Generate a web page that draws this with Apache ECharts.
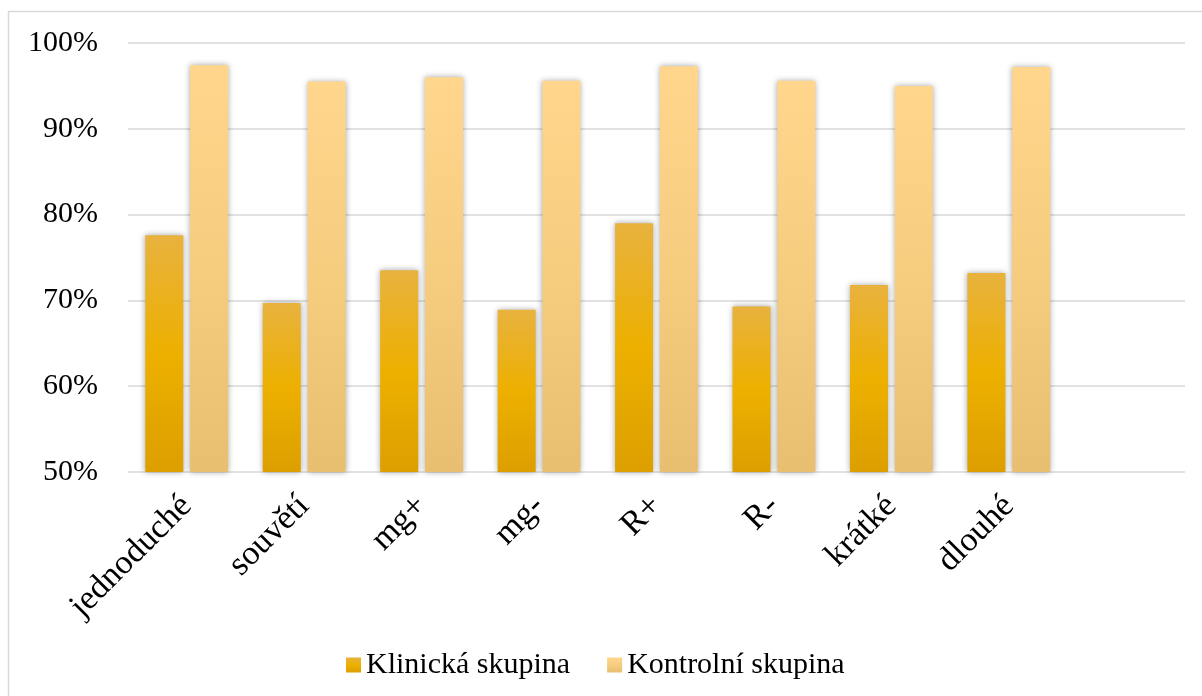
<!DOCTYPE html>
<html>
<head>
<meta charset="utf-8">
<script src="https://cdn.jsdelivr.net/npm/echarts@6/dist/echarts.min.js"></script>
<style>
html,body{margin:0;padding:0;background:#fff;}
#c{width:1202px;height:696px;}
</style>
</head>
<body>
<div id="c"></div>
<script>
var categories = ['jednoduché','souvětí','mg+','mg-','R+','R-','krátké','dlouhé',''];
var klinicka = [77.6, 69.7, 73.5, 68.9, 79.0, 69.3, 71.8, 73.2];
var kontrolni = [97.4, 95.5, 96.0, 95.6, 97.3, 95.6, 95.0, 97.2];
var seriesNames = ['Klinická skupina','Kontrolní skupina'];

var font = 'Liberation Serif, Times New Roman, serif';
var chart = echarts.init(document.getElementById('c'));
var gradK = new echarts.graphic.LinearGradient(0,0,0,1,[
  {offset:0,color:'#e8b23e'},{offset:0.5,color:'#edb000'},{offset:1,color:'#dc9f00'}]);
var gradC = new echarts.graphic.LinearGradient(0,0,0,1,[
  {offset:0,color:'#ffd68c'},{offset:0.5,color:'#f6cc7f'},{offset:1,color:'#e8bf70'}]);
chart.setOption({
  animation:false,
  backgroundColor:'#fff',
  graphic:[{type:'rect',shape:{x:8.5,y:11.5,width:1300,height:800},style:{fill:null,stroke:'#d9d9d9',lineWidth:1.5},silent:true}],
  grid:{left:128,right:17,top:43,bottom:224,containLabel:false},
  legend:{
    bottom:11,left:341,itemWidth:15,itemHeight:15,itemGap:37,icon:'rect',
    textStyle:{fontFamily:font,fontSize:30,color:'#000'},
    data:seriesNames
  },
  xAxis:{
    type:'category',data:categories,
    axisLine:{show:false},axisTick:{show:false},
    axisLabel:{rotate:45,interval:0,fontFamily:font,fontSize:34,color:'#000',margin:29}
  },
  yAxis:{
    type:'value',min:50,max:100,interval:10,
    axisLine:{show:false},axisTick:{show:false},
    axisLabel:{formatter:'{value}%',fontFamily:font,fontSize:30,color:'#000',margin:30},
    splitLine:{lineStyle:{color:'#d9d9d9',width:1.5}}
  },
  series:[
    {name:seriesNames[0],type:'bar',data:klinicka,barWidth:38,barGap:'18%',
     itemStyle:{color:gradK,shadowColor:'rgba(0,0,0,0.35)',shadowBlur:6}},
    {name:seriesNames[1],type:'bar',data:kontrolni,barWidth:38,barGap:'18%',
     itemStyle:{color:gradC,shadowColor:'rgba(0,0,0,0.35)',shadowBlur:6}}
  ]
});
</script>
</body>
</html>
